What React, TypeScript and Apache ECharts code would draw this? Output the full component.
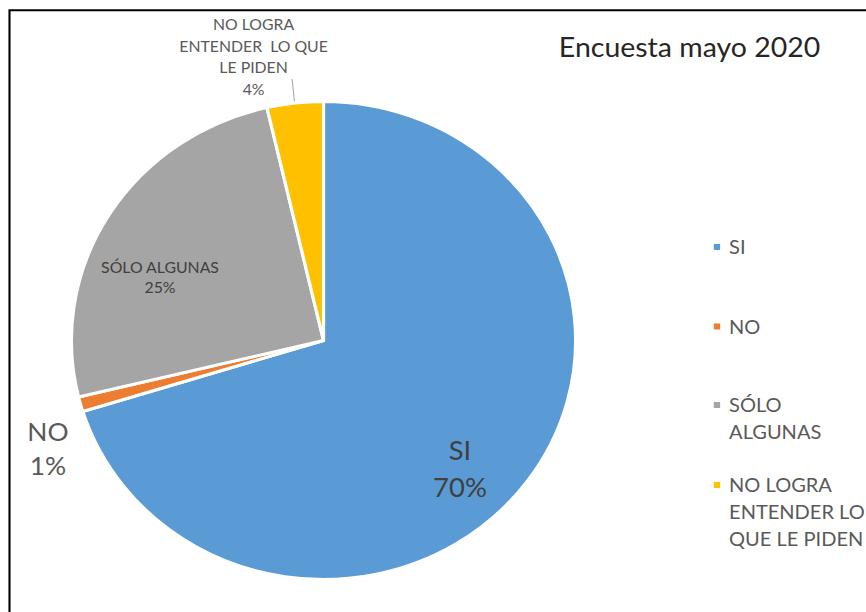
import { useEffect, useRef } from 'react';
import * as echarts from 'echarts';

// ---- data ----
const CATEGORIES = ['SI', 'NO', 'SÓLO ALGUNAS', 'NO LOGRA ENTENDER LO QUE LE PIDEN'];
const VALUES = [70.2, 1.0, 25.2, 3.6];
const LABEL_TEXT = ['SI', 'NO', 'SÓLO ALGUNAS', 'NO LOGRA\nENTENDER  LO QUE\nLE PIDEN'];
const LEGEND_TEXT = ['SI', 'NO', 'SÓLO\nALGUNAS', 'NO LOGRA\nENTENDER LO\nQUE LE PIDEN'];
const TITLE = 'Encuesta mayo 2020';

// ---- styles / layout ----
const COLORS = ['#5B9BD5', '#ED7D31', '#A5A5A5', '#FFC000'];
const W = 821;
const H = 612;
const SX = 866 / W;
const FONT = 'Lato, "Open Sans", sans-serif';

const LABEL_POS = [
  [436.1, 468.5],
  [45.5, 448],
  [151.7, 277],
  [240.4, 56.5],
];
const LABEL_STYLE = [
  { fontSize: 26, lineHeight: 37, color: '#404040' },
  { fontSize: 25, lineHeight: 34, color: '#595959' },
  { fontSize: 15, lineHeight: 20, color: '#404040' },
  { fontSize: 15, lineHeight: 21.5, color: '#595959' },
];
const LEADER = [
  [279.4, 104.6],
  [278.2, 92],
  [276.9, 79],
];
const LEGEND_TOPS = [233.5, 313, 391.5, 471.5];
const LEGEND_LEFT = 676.7;
const LEGEND_LH = 27;

function iconPath(lines: number) {
  const h = lines * LEGEND_LH;
  return `path://M0,0L0.01,0M9.5,${h}L9.49,${h}M0,10.5L6,10.5L6,16.5L0,16.5Z`;
}

export default function App() {
  const ref = useRef<HTMLDivElement>(null);

  useEffect(() => {
    if (!ref.current) return;
    const chart = echarts.init(ref.current, null, { renderer: 'svg', width: W, height: H });

    const legends = CATEGORIES.map((name, i) => {
      const lines = LEGEND_TEXT[i].split('\n').length;
      return {
        orient: 'vertical',
        left: LEGEND_LEFT,
        top: LEGEND_TOPS[i],
        padding: 0,
        selectedMode: false,
        itemWidth: 9.5,
        itemHeight: lines * LEGEND_LH,
        itemStyle: { borderWidth: 0 },
        textStyle: { fontFamily: FONT, fontSize: 19, lineHeight: LEGEND_LH, color: '#595959' },
        formatter: (n: string) => LEGEND_TEXT[CATEGORIES.indexOf(n)],
        data: [{ name, icon: iconPath(lines) }],
      };
    });

    chart.setOption({
      animation: false,
      backgroundColor: '#ffffff',
      title: {
        text: TITLE,
        left: 653.7,
        top: 46.5,
        padding: 0,
        textAlign: 'center',
        textVerticalAlign: 'middle',
        textStyle: { fontFamily: FONT, fontSize: 27, fontWeight: 'normal', color: '#262626' },
      },
      legend: legends,
      graphic: [
        {
          type: 'polyline',
          silent: true,
          shape: { points: [[9, H + 5], [9, 10.3], [W + 5, 10.3]] },
          style: { stroke: '#000000', lineWidth: 2, fill: null },
        },
      ],
      series: [
        {
          type: 'pie',
          center: [306.7, 340.5],
          radius: 239,
          startAngle: 90,
          clockwise: true,
          avoidLabelOverlap: false,
          emphasis: { disabled: true },
          itemStyle: { borderColor: '#ffffff', borderWidth: 3 },
          label: {
            fontFamily: FONT,
            formatter: (p: any) => `${LABEL_TEXT[p.dataIndex]}\n${Math.round(p.percent)}%`,
          },
          labelLine: { show: false },
          labelLayout: (p: any) => {
            const pos = LABEL_POS[p.dataIndex];
            const r: any = { x: pos[0], y: pos[1], align: 'center', verticalAlign: 'middle' };
            if (p.dataIndex === 3) r.labelLinePoints = LEADER;
            return r;
          },
          data: CATEGORIES.map((name, i) => ({
            name,
            value: VALUES[i],
            itemStyle: { color: COLORS[i] },
            label: { position: i === 3 ? 'outside' : 'inside', ...LABEL_STYLE[i] },
            labelLine:
              i === 3
                ? { show: true, length: 10, length2: 10, lineStyle: { color: '#A6A6A6', width: 1 } }
                : { show: false },
          })),
        },
      ],
    });

    return () => chart.dispose();
  }, []);

  return (
    <div
      ref={ref}
      style={{
        position: 'absolute',
        left: 0,
        top: 0,
        width: W,
        height: H,
        transform: `scaleX(${SX})`,
        transformOrigin: '0 0',
        background: '#ffffff',
      }}
    />
  );
}
